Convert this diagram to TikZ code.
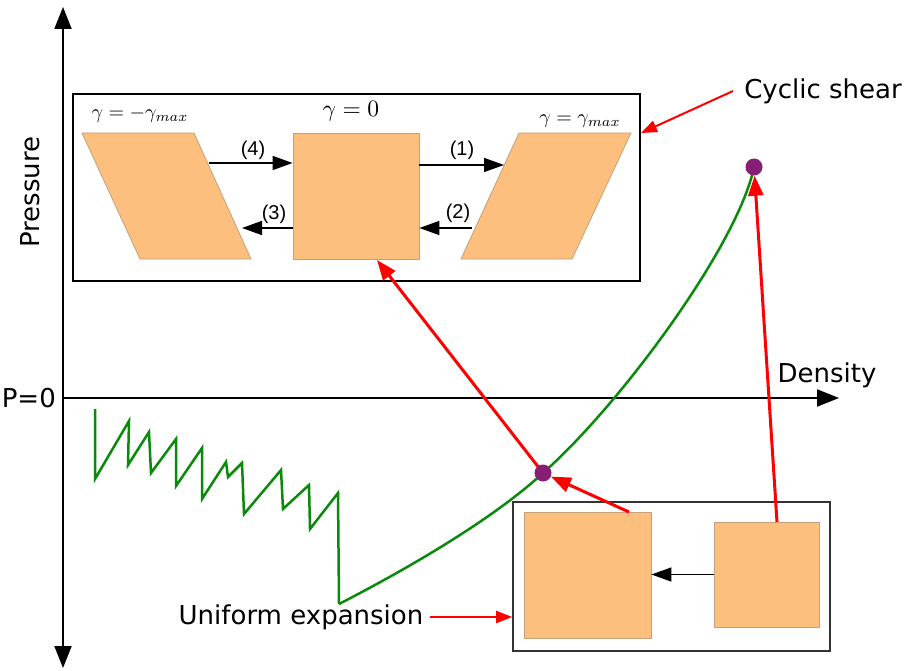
\documentclass[tikz,border=0pt]{standalone}
\usepackage{fontspec}
\setmainfont{DejaVu Sans}
\newfontfamily\numfont{Liberation Sans}
\usetikzlibrary{arrows.meta}
\definecolor{sqfill}{RGB}{253,191,126}
\definecolor{sqedge}{RGB}{196,160,124}
\definecolor{dotc}{RGB}{134,30,118}
\definecolor{curvec}{RGB}{10,138,10}
\begin{document}
\begin{tikzpicture}[x=1pt,y=-1pt,
  sqbox/.style={draw=sqedge, fill=sqfill, line width=0.8pt, inner sep=0pt},
  para/.style={draw=sqedge, fill=sqfill, line width=0.8pt},
  bigframe/.style={draw=black, line width=2.2pt, inner sep=0pt, fill=none},
  smallframe/.style={draw=black!80, line width=1.6pt, inner sep=0pt, fill=none},
  axis/.style={draw=black, line width=2pt, {Triangle[length=22pt,width=17pt]}-{Triangle[length=22pt,width=17pt]}},
  axisx/.style={draw=black, line width=2pt, -{Triangle[length=22pt,width=17pt]}},
  blk/.style={draw=black, line width=1.5pt, -{Triangle[length=20pt,width=14pt]}},
  redarr/.style={draw=red, line width=3pt, -{Triangle[length=20pt,width=15pt]}},
  redthin/.style={draw=red, line width=2pt, -{Triangle[length=16pt,width=12pt]}},
  dotn/.style={circle, fill=dotc, inner sep=0pt, minimum size=17pt},
  curve/.style={draw=curvec, line width=2.5pt, line join=miter},
  biglabel/.style={inner sep=0pt, font=\fontsize{26}{30}\selectfont},
  numlabel/.style={inner sep=0pt, font=\numfont\fontsize{20}{22}\selectfont},
  gamlabel/.style={inner sep=0pt},
]
\useasboundingbox (0,0) rectangle (909,671);

% axes
\coordinate (ytop) at (63,7);
\coordinate (ybot) at (63,668);
\coordinate (orig) at (63,398);
\coordinate (xend) at (839,398);
\draw[axis] (ybot) -- (ytop);
\draw[axisx] (orig) -- (xend);

\node[biglabel, anchor=east] (p0) at (56,398) {P=0};
\node[biglabel, rotate=90] (pres) at (30,192) {Pressure};
\node[biglabel] (dens) at (827,375) {Density};
\node[biglabel] (cyc) at (823,91) {Cyclic shear};
\node[biglabel] (uni) at (301,617) {Uniform expansion};

% top frame
\node[bigframe, minimum width=567pt, minimum height=187pt] (shearbox) at (356.5,187.5) {};
\draw[para] (82,133) -- (194,133) -- (251,259) -- (140,259) -- cycle;
\draw[para] (519,133) -- (631,133) -- (572,259) -- (461,259) -- cycle;
\node[sqbox, minimum width=126pt, minimum height=126pt] (csq) at (356,196) {};

\node[gamlabel] (gneg) at (140,115) {\scalebox{2}{$\gamma = -\gamma_{max}$}};
\node[gamlabel] (gzero) at (351,111) {\scalebox{2.35}{$\gamma = 0$}};
\node[gamlabel] (gpos) at (580,121) {\scalebox{2}{$\gamma = \gamma_{max}$}};

\coordinate (a4) at (209,163);
\coordinate (a1) at (504,165);
\coordinate (a3) at (242,228);
\coordinate (a2) at (472,228);
\draw[blk] (a4) -- (a4 -| csq.west);
\draw[blk] (a1 -| csq.east) -- (a1);
\draw[blk] (a3 -| csq.west) -- (a3);
\draw[blk] (a2) -- (a2 -| csq.east);
\node[numlabel] (l4) at (253,150) {(4)};
\node[numlabel] (l1) at (462,150) {(1)};
\node[numlabel] (l3) at (274,214) {(3)};
\node[numlabel] (l2) at (458,213) {(2)};

% bottom frame
\node[smallframe, minimum width=317pt, minimum height=149pt] (expbox) at (671.5,576.5) {};
\node[sqbox, minimum width=127pt, minimum height=126pt] (lsq) at (587.5,575) {};
\node[sqbox, minimum width=105pt, minimum height=105pt] (rsq) at (766.5,574.5) {};
\draw[blk] (rsq.west) -- (rsq.west -| lsq.east);

% green curves
\coordinate (ldc) at (543,473);
\coordinate (udc) at (754,167);
\coordinate (cstart) at (339,604);
\draw[curve] (95,409) -- (95,479) -- (129,421) -- (128,465) -- (149,432) -- (151,473)
  -- (176,439) -- (176,486) -- (202,448) -- (202,499) -- (226,462) -- (228,477)
  -- (242,463) -- (244,514) -- (281,470) -- (283,509) -- (309,485) -- (310,529)
  -- (338,493) -- (cstart);
\draw[curve] (cstart) .. controls (409,568) and (493,519) .. (ldc)
  .. controls (620,405) and (738,245) .. (udc);

% red arrows
\coordinate (t1) at (377,260);
\draw[redarr] (ldc) -- (t1);
\node[dotn] (ldot) at (ldc) {};
\node[dotn] (udot) at (udc) {};
\coordinate (s2) at (629,512);
\coordinate (s3) at (777,522);
\draw[redarr] (s2) -- (ldot);
\draw[redarr] (s3) -- (udot);
\coordinate (cycend) at (641,133);
\draw[redthin] (cyc.west) ++(-11,0) coordinate (cycstart) -- (cycend);
\draw[redthin] (uni.east) ++(6,0) coordinate (unistart) -- (uni.east -| expbox.west);
\end{tikzpicture}
\end{document}
